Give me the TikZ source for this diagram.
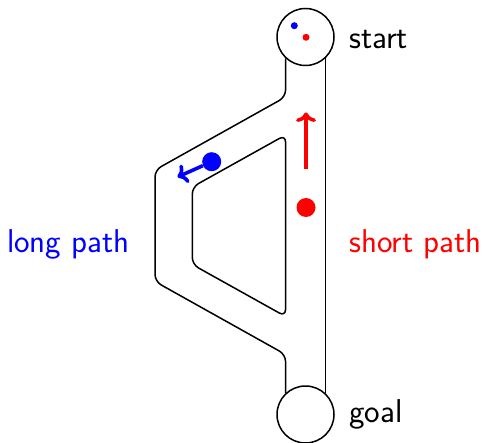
\documentclass[tikz,border=0pt]{standalone}
\usetikzlibrary{arrows.meta,calc}
\begin{document}
\begin{tikzpicture}[x=1pt,y=-1pt,
  station/.style={circle,draw,line width=1.5pt,minimum size=57pt,inner sep=0pt},
  wall/.style={line width=1.5pt,rounded corners=7pt},
  lbl/.style={font=\sffamily\fontsize{33}{38}\selectfont,anchor=west,inner sep=0pt},
  bigdot/.style={circle,inner sep=0pt,minimum size=19pt},
  smalldot/.style={circle,inner sep=0pt,minimum size=7pt},
  move/.style={line width=3.6pt,->}]
\useasboundingbox (0,0) rectangle (484,443);
\node[station] (start) at (305.5,37) {};
\node[station] (goal) at (305.5,414.5) {};
% right (short) tube wall
\draw[line width=1.5pt] (start.-47) -- (start.-47 |- goal.47);
% left (long) tube outer wall
\coordinate (o1) at ($(start.-133 |- 0,97)$);
\coordinate (o2) at (155,170);
\coordinate (o3) at (155,281.5);
\coordinate (o4) at ($(start.-133 |- 0,354.5)$);
\draw[wall] (start.-133) -- (o1) -- (o2) -- (o3) -- (o4) -- (goal.133);
% inner island
\coordinate (i1) at ($(start.-133 |- 0,135)$);
\coordinate (i2) at (192.3,187);
\coordinate (i3) at (192.3,264.5);
\coordinate (i4) at ($(start.-133 |- 0,316.5)$);
\draw[wall] (i1) -- (i2) -- (i3) -- (i4) -- cycle;
% agents in start
\node[smalldot,fill=blue] (sb) at (294.3,25.7) {};
\node[smalldot,fill=red] (sr) at (306,37.3) {};
% moving agents
\node[bigdot,fill=blue] (bb) at (211.7,161.7) {};
\coordinate (bt) at (177.5,177);
\draw[move,blue] (bb) -- (bt);
\node[bigdot,fill=red] (rb) at (306,207.5) {};
\coordinate (rs) at (306,169.5);
\coordinate (rt) at (306,112.5);
\draw[move,red] (rs) -- (rt);
% labels
\node[lbl] (ls) at (349,40) {start};
\node[lbl] (lg) at (349,414) {goal};
\node[lbl,anchor=east,text=blue] (ll) at (130,244) {long path};
\node[lbl,text=red] (lr) at (349,244) {short path};
\end{tikzpicture}
\end{document}
